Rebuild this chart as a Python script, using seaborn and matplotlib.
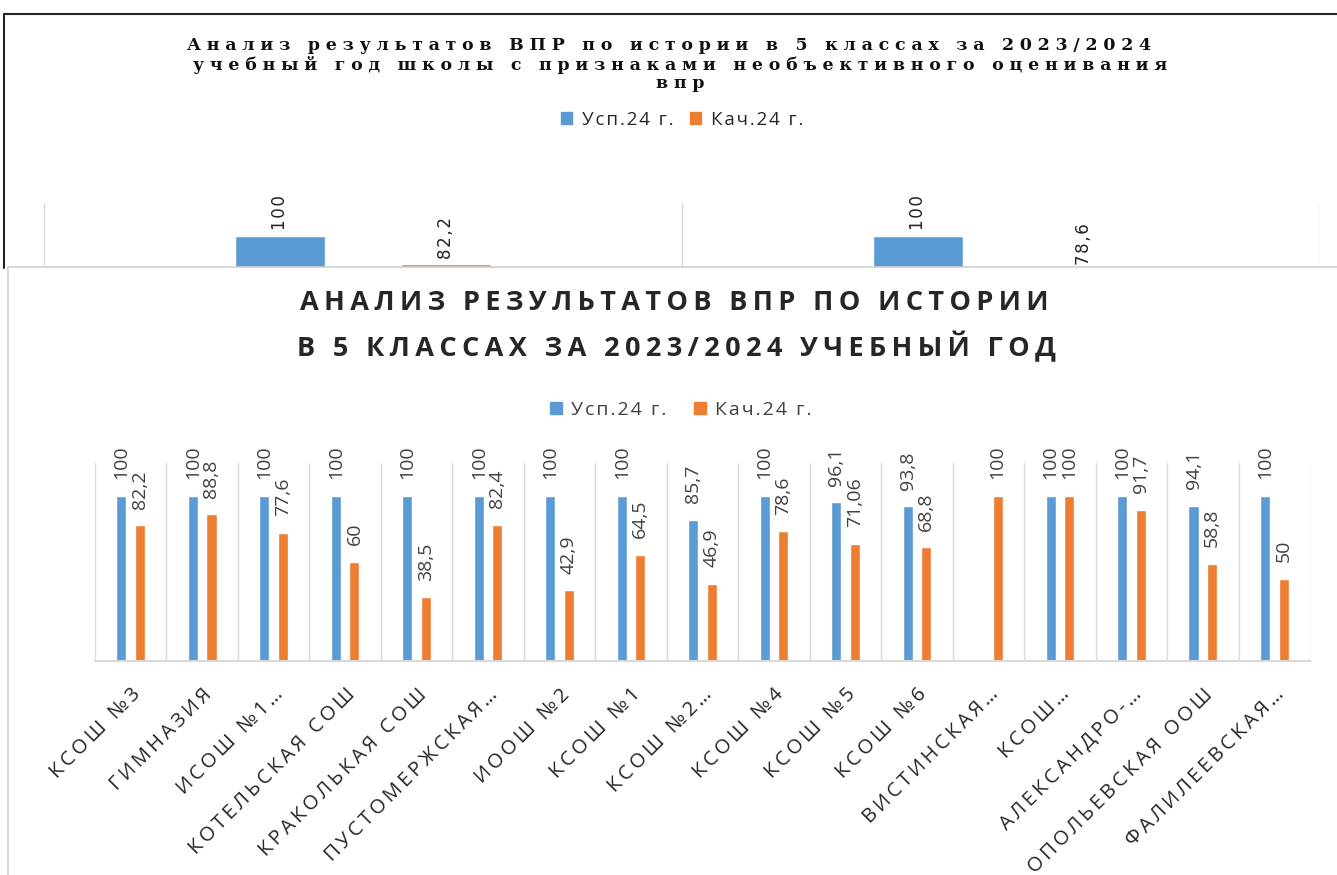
import numpy as np
import pandas as pd
import matplotlib
matplotlib.use("Agg")
import matplotlib.pyplot as plt
from matplotlib.patches import Rectangle, Patch
from matplotlib.lines import Line2D
import seaborn as sns

sns.set_style("white")
plt.rcParams["font.family"] = ["Open Sans", "DejaVu Sans"]

series = ["Усп.24 г.", "Кач.24 г."]
colors = ["#5B9BD5", "#ED7D31"]

# main chart
schools = [
    "КСОШ №3", "ГИМНАЗИЯ", "ИСОШ №1…", "КОТЕЛЬСКАЯ СОШ", "КРАКОЛЬКАЯ СОШ",
    "ПУСТОМЕРЖСКАЯ…", "ИООШ №2", "КСОШ №1", "КСОШ №2…", "КСОШ №4", "КСОШ №5",
    "КСОШ №6", "ВИСТИНСКАЯ…", "КСОШ…", "АЛЕКСАНДРО-…", "ОПОЛЬЕВСКАЯ ООШ",
    "ФАЛИЛЕЕВСКАЯ…",
]
usp = [100, 100, 100, 100, 100, 100, 100, 100, 85.7, 100, 96.1, 93.8, np.nan, 100, 100, 94.1, 100]
kach = [82.2, 88.8, 77.6, 60, 38.5, 82.4, 42.9, 64.5, 46.9, 78.6, 71.06, 68.8, 100, 100, 91.7, 58.8, 50]

# chart behind (cut off in the picture)
top_schools = ["КСОШ №3", "КСОШ №4"]
top_usp = [100, 100]
top_kach = [82.2, 78.6]


def long_df(cats, a, b):
    return pd.DataFrame({
        "school": list(cats) * 2,
        "series": [series[0]] * len(cats) + [series[1]] * len(cats),
        "value": list(a) + list(b),
    })


def spaced(s, sep="\u2009"):
    return sep.join(s)


def fmt(v):
    return f"{v:g}".replace(".", ",")


W, H = 1337, 875
fig = plt.figure(figsize=(W / 100, H / 100), dpi=100)


def fx(px):
    return px / W


def fy(py):
    return 1 - py / H


# ---------- back chart ----------
fig.add_artist(Line2D([fx(4), 1.0], [fy(14), fy(14)], transform=fig.transFigure,
                      color="#222222", lw=1.5, zorder=0.2))
fig.add_artist(Line2D([fx(4), fx(4)], [fy(14), fy(268)], transform=fig.transFigure,
                      color="#222222", lw=1.5, zorder=0.2))
ax_top = fig.add_axes([fx(44), fy(398), fx(1320) - fx(44), fy(203) - fy(398)])
ax_top.set_zorder(0.5)
sns.barplot(data=long_df(top_schools, top_usp, top_kach), x="school", y="value", hue="series",
            palette=colors, saturation=1, width=0.52, gap=0.46, errorbar=None,
            legend=False, ax=ax_top)
ax_top.set_ylim(0, 120)
ax_top.set_xlim(-0.5, len(top_schools) - 0.5)
ax_top.set_xticks(np.arange(-0.5, len(top_schools)), minor=True)
ax_top.grid(which="minor", axis="x", color="#d9d9d9", lw=1)
ax_top.set_xticks([])
ax_top.set_yticks([])
ax_top.set_xlabel("")
ax_top.set_ylabel("")
for s in ax_top.spines.values():
    s.set_visible(False)
for cont in ax_top.containers:
    labels = [spaced(fmt(b.get_height()), "\u200a") if np.isfinite(b.get_height()) else "" for b in cont]
    ax_top.bar_label(cont, labels=labels, rotation=90, padding=4, fontsize=12,
                     family=["DejaVu Sans"], color="#222222")

title_kw = dict(ha="center", va="center", fontsize=12.5, fontweight="bold",
                family=["DejaVu Serif"], color="#111111")
fig.text(fx(669), fy(45), spaced("Анализ результатов ВПР по истории в 5 классах за 2023/2024", "\u2004"), **title_kw)
fig.text(fx(680), fy(65), spaced("учебный год школы с признаками необъективного оценивания", "\u2004"), **title_kw)
fig.text(fx(680), fy(83), spaced("впр", "\u2004"), **title_kw)
handles = [Patch(color=c, label=spaced(l, "\u200a")) for c, l in zip(colors, series)]
fig.legend(handles=handles, loc="center", bbox_to_anchor=(fx(682), fy(120)), ncol=2,
           frameon=False, fontsize=13.5, handlelength=0.6, handleheight=0.6,
           handletextpad=0.5, columnspacing=0.9)

# ---------- main chart ----------
fig.add_artist(Rectangle((fx(8), -0.1), 1.2, fy(267) + 0.1, transform=fig.transFigure,
                         facecolor="white", edgecolor="#d0d0d0", lw=1.2, zorder=1))
ax = fig.add_axes([fx(95), fy(661), fx(1310) - fx(95), fy(463) - fy(661)])
ax.set_zorder(2)
sns.barplot(data=long_df(schools, usp, kach), x="school", y="value", hue="series",
            palette=colors, saturation=1, width=0.52, gap=0.46, errorbar=None,
            legend=False, ax=ax)
ax.set_ylim(0, 120)
ax.set_xlim(-0.5, len(schools) - 0.5)
ax.set_xticks(np.arange(-0.5, len(schools)), minor=True)
ax.grid(which="minor", axis="x", color="#d9d9d9", lw=1)
ax.set_yticks([])
ax.set_xlabel("")
ax.set_ylabel("")
for k in ["left", "right", "top"]:
    ax.spines[k].set_visible(False)
ax.spines["bottom"].set_color("#d9d9d9")
ax.spines["bottom"].set_linewidth(1.5)
ax.set_xticks(range(len(schools)))
ax.set_xticklabels([spaced(s) for s in schools], rotation=45, ha="right", va="top",
                   rotation_mode="anchor", fontsize=14.5, color="#262626")
ax.tick_params(axis="x", which="both", length=0, pad=17)

for cont in ax.containers:
    labels = [fmt(b.get_height()) if np.isfinite(b.get_height()) else "" for b in cont]
    ax.bar_label(cont, labels=labels, rotation=90, padding=12, fontsize=14, color="#404040")

mt_kw = dict(ha="center", va="center", fontsize=19.5, fontweight="bold", color="#262626")
fig.text(fx(674), fy(303), spaced("АНАЛИЗ РЕЗУЛЬТАТОВ ВПР ПО ИСТОРИИ"), **mt_kw)
fig.text(fx(676), fy(347), spaced("В 5 КЛАССАХ ЗА 2023/2024 УЧЕБНЫЙ ГОД"), **mt_kw)

handles = [Patch(color=c, label=spaced(l, "\u200a")) for c, l in zip(colors, series)]
fig.legend(handles=handles, loc="center", bbox_to_anchor=(fx(681), fy(410)), ncol=2,
           frameon=False, fontsize=14, handlelength=0.6, handleheight=0.6,
           handletextpad=0.5, columnspacing=1.4, labelcolor="#404040")

fig.savefig("out.png", dpi=100)
